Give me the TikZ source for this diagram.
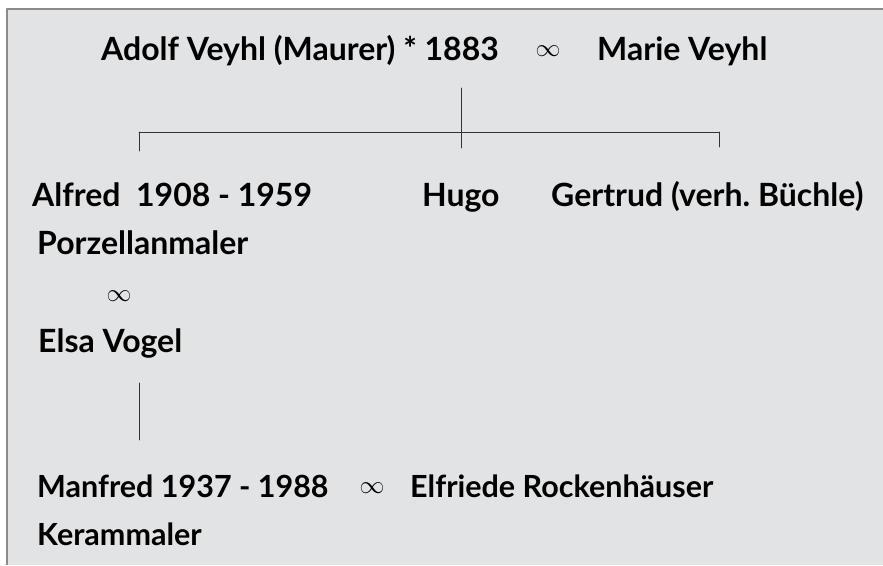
\documentclass[tikz,border=0pt]{standalone}
\usepackage{fontspec}
\setmainfont{Lato}
\frenchspacing
\definecolor{grund}{HTML}{E2E3E5}
\definecolor{rand}{HTML}{8A8A8A}
\definecolor{linie}{HTML}{333333}
\begin{document}
\begin{tikzpicture}[x=1pt, y=-1pt, line join=round, line cap=round,
  person/.style={anchor=base west, inner sep=0pt, font=\fontsize{32}{36}\selectfont\bfseries},
  unten/.style={person, font=\fontsize{30.5}{34}\selectfont\bfseries},
  ehe/.style={anchor=center, inner sep=0pt, font=\fontsize{23}{26}\selectfont},
  strich/.style={draw=linie, line width=0.9pt}]
\useasboundingbox (0,0) rectangle (883,565);
\fill[grund] (7,9) rectangle (883,565);
\draw[rand, line width=1.2pt, line cap=butt] (7,565)--(7,9)--(883,9);
% Personen
\foreach \n/\x/\y/\txt in {adolf/101/60/{Adolf Veyhl (Maurer) * 1883},
  marie/597/60/{Marie Veyhl},
  alfred/32/206/{Alfred\ \ 1908 - 1959},
  hugo/422/206/{Hugo},
  gertrud/551/206/{Gertrud (verh. Büchle)},
  porz/37/254/{Porzellanmaler},
  elsa/38/352/{Elsa Vogel}}
  \path (\x,\y) node[person](\n){\txt};
\foreach \n/\x/\y/\txt in {manfred/37/497/{Manfred 1937 - 1988},
  elfriede/410/497/{Elfriede Rockenhäuser},
  keram/37/545/{Kerammaler}}
  \path (\x,\y) node[unten](\n){\txt};
% Ehezeichen
\foreach \n/\x/\y in {e1/548/51, e2/119/296, e3/372/488}
  \path (\x,\y) node[ehe](\n){$\infty$};
% Stammlinien
\path (461,88) coordinate(eltern)
  --(461,132) coordinate(mitte)
  (139,132) coordinate(links) --(139,151) coordinate(fuss1)
  (719,132) coordinate(rechts) --(719,147) coordinate(fuss3)
  (461,148) coordinate(fuss2)
  (139,383) coordinate(kind1) (139,440) coordinate(kind2);
\draw[strich] (eltern)--(fuss2) (links)--(rechts) (links)--(fuss1) (rechts)--(fuss3);
\draw[strich] (kind1)--(kind2);
\end{tikzpicture}
\end{document}
